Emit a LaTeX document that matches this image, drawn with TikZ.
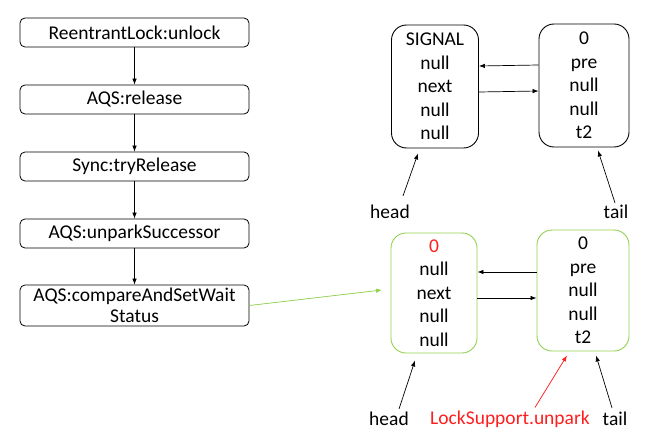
\documentclass[tikz,border=0pt]{standalone}
\usepackage{fontspec}
\setmainfont{Carlito}
\usetikzlibrary{arrows.meta}
\definecolor{grn}{RGB}{146,208,80}
\definecolor{rd}{RGB}{255,30,30}
\begin{document}
\begin{tikzpicture}[x=1pt,y=-1pt,
  every node/.style={font=\fontsize{19.5}{23.5}\selectfont},
  flow/.style={draw,rounded corners=5pt,line width=0.8pt,minimum width=229pt,inner sep=0pt,align=center},
  qbox/.style={draw,rounded corners=15pt,line width=0.9pt,inner sep=0pt,align=center},
  arr/.style={-{Latex[length=6pt,width=4.5pt]},line width=0.7pt},
  lbl/.style={inner sep=1pt}]
\useasboundingbox (0,0) rectangle (668,441);
% left flow
\node[flow,minimum height=29pt] (f1) at (134.5,32.5) {ReentrantLock:unlock};
\node[flow,minimum height=29pt] (f2) at (134.5,99.5) {AQS:release};
\node[flow,minimum height=29pt] (f3) at (134.5,166.5) {Sync:tryRelease};
\node[flow,minimum height=29pt] (f4) at (134.5,233.5) {AQS:unparkSuccessor};
\node[flow,minimum height=41pt,font=\fontsize{19.5}{20.5}\selectfont] (f5) at (134.5,305.5) {AQS:compareAndSetWait\\Status};
\draw[arr] (f1) -- (f2);
\draw[arr] (f2) -- (f3);
\draw[arr] (f3) -- (f4);
\draw[arr] (f4) -- (f5);
% top queue
\node[qbox,minimum width=87pt,minimum height=123pt] (A) at (435,86.5) {SIGNAL\\null\\next\\null\\null};
\node[qbox,minimum width=90pt,minimum height=123pt] (B) at (584,85.5) {0\\pre\\null\\null\\t2};
\draw[arr] ([yshift=20.5pt]B.west) -- ([yshift=20.5pt]A.east);
\draw[arr] ([yshift=-5.5pt]A.east) -- ([yshift=-5.5pt]B.west);
\node[lbl] (hA) at (390,212) {head};
\node[lbl] (tB) at (616,212) {tail};
\draw[arr] ([xshift=13pt,yshift=8pt]hA.north) -- ([xshift=-17pt,yshift=-5pt]A.south);
\draw[arr] ([xshift=-1pt,yshift=1pt]tB.north) -- ([xshift=14pt,yshift=-3pt]B.south);
% bottom queue
\node[qbox,draw=grn,minimum width=86pt,minimum height=120pt] (C) at (434,293) {\textcolor{rd}{0}\\null\\next\\null\\null};
\node[qbox,draw=grn,minimum width=92pt,minimum height=121pt] (D) at (583,290.5) {0\\pre\\null\\null\\t2};
\draw[arr] ([yshift=18.5pt]D.west) -- ([yshift=21pt]C.east);
\draw[arr] ([yshift=-5pt]C.east) -- ([yshift=-7.5pt]D.west);
\node[lbl] (hC) at (389,419) {head};
\node[lbl,text=rd] (ls) at (510,419) {LockSupport.unpark};
\node[lbl] (tD) at (615,419) {tail};
\draw[arr] ([xshift=10pt,yshift=2pt]hC.north) -- ([xshift=-19pt,yshift=-7pt]C.south);
\draw[arr,draw=rd,fill=rd] ([xshift=25pt,yshift=2pt]ls.north) -- ([xshift=-16pt,yshift=-4pt]D.south);
\draw[arr] ([xshift=-3pt,yshift=3pt]tD.north) -- ([xshift=13pt,yshift=-4pt]D.south);
% green connector
\coordinate (g) at (382,290);
\draw[arr,draw=grn,fill=grn] (f5.east) -- (g);
\end{tikzpicture}
\end{document}
